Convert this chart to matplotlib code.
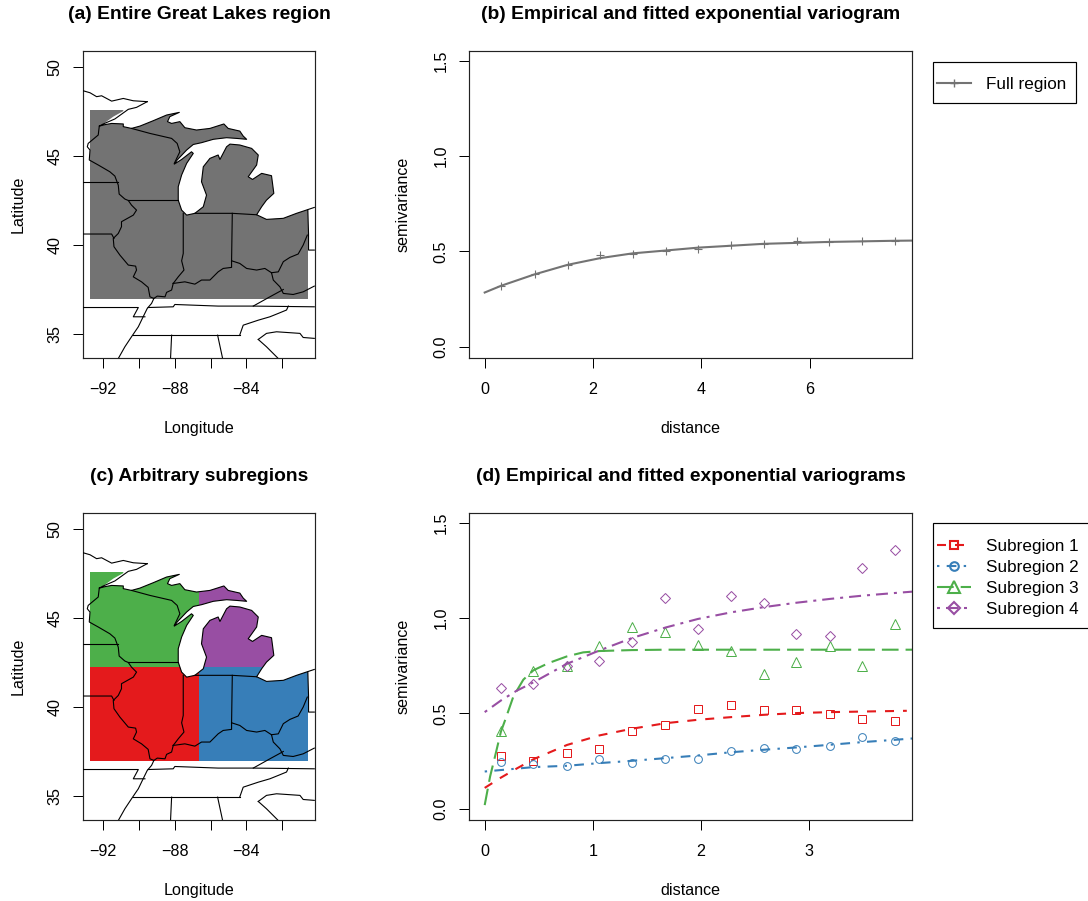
import matplotlib
matplotlib.use("Agg")
import matplotlib.pyplot as plt
from matplotlib.lines import Line2D
from matplotlib.patches import Polygon, Rectangle

plt.rcParams["font.family"] = ["Liberation Sans", "DejaVu Sans"]
plt.rcParams["lines.scale_dashes"] = False
plt.rcParams["lines.dash_capstyle"] = "butt"

# ---- map geometry (lon, lat) ----
REGION_LON = (-92.74, -80.57)
REGION_LAT = (36.99, 47.57)
SPLIT_LON = -86.66
SPLIT_LAT = 42.26

SHORELINE = [(-89.54, 48.04), (-90.14, 47.72), (-90.60, 47.61), (-91.35, 47.07), (-92.00, 46.79),
             (-92.22, 46.67), (-91.91, 46.75), (-91.53, 46.82), (-90.88, 46.79), (-90.88, 46.64),
             (-90.42, 46.54), (-89.95, 46.67), (-89.21, 46.97), (-88.46, 47.29), (-87.75, 47.44),
             (-88.28, 47.20), (-88.41, 46.92), (-88.18, 46.82), (-87.72, 46.92), (-87.44, 46.58),
             (-86.79, 46.45), (-86.04, 46.54), (-85.26, 46.79), (-85.02, 46.54), (-84.37, 46.39),
             (-84.18, 46.11), (-83.99, 45.93), (-84.55, 45.98), (-85.11, 46.02), (-85.85, 45.93),
             (-86.51, 45.74), (-86.97, 45.64), (-87.34, 45.33), (-87.87, 44.77), (-88.03, 44.54),
             (-87.62, 44.80), (-87.07, 45.23), (-86.97, 45.14), (-87.34, 44.58), (-87.62, 43.93),
             (-87.81, 43.27), (-87.81, 42.52), (-87.62, 41.96), (-87.34, 41.68), (-86.88, 41.78),
             (-86.41, 42.15), (-86.23, 42.80), (-86.51, 43.55), (-86.41, 44.39), (-86.04, 44.86),
             (-85.58, 45.05), (-85.48, 44.80), (-85.11, 45.51), (-84.92, 45.66), (-84.37, 45.61),
             (-83.71, 45.42), (-83.34, 45.05), (-83.43, 44.49), (-83.90, 43.83), (-83.66, 43.68),
             (-83.15, 44.02), (-82.60, 43.89), (-82.47, 42.90), (-82.88, 42.52), (-83.15, 42.15),
             (-83.43, 41.70), (-82.88, 41.44), (-81.94, 41.50), (-81.20, 41.78), (-80.21, 42.11)]
LAKE_EXTRA_START = [(-90.88, 50.0), (-90.88, 47.51), (-91.44, 47.20)]
LAKE_EXTRA_END = [(-80.0, 42.15), (-80.0, 50.0)]

BORDERS = [
    [(-93.12, 48.65), (-92.74, 48.54), (-92.37, 48.32), (-92.09, 48.37), (-91.53, 48.07),
     (-90.88, 48.22), (-90.32, 48.09), (-89.54, 48.04)],
    [(-92.22, 46.67), (-92.28, 46.17), (-92.84, 45.70), (-92.89, 45.51), (-92.74, 45.33),
     (-92.78, 44.77), (-92.28, 44.49), (-91.63, 44.11), (-91.35, 43.87), (-91.16, 43.36),
     (-91.11, 42.86), (-90.79, 42.58), (-90.60, 42.50), (-90.42, 42.24), (-90.14, 41.96),
     (-90.32, 41.68), (-90.98, 41.31), (-90.98, 41.03), (-91.16, 40.65), (-91.44, 40.37),
     (-91.40, 39.91), (-91.07, 39.44), (-90.60, 38.88), (-90.19, 38.82), (-90.14, 38.60),
     (-90.32, 38.22), (-89.86, 37.94), (-89.49, 37.63), (-89.39, 37.10), (-89.17, 37.01),
     (-89.30, 36.73), (-89.54, 36.45), (-89.77, 35.98), (-90.04, 35.42), (-90.42, 34.86),
     (-90.79, 34.30), (-91.16, 33.64)],
    [(-90.60, 42.50), (-87.81, 42.50)],
    [(-93.12, 43.51), (-91.16, 43.51)],
    [(-93.12, 40.62), (-91.53, 40.62), (-91.40, 40.37)],
    [(-90.42, 46.54), (-89.39, 46.26), (-88.18, 45.98), (-87.87, 45.70), (-87.72, 45.23), (-88.03, 44.58)],
    [(-87.53, 41.78), (-87.53, 39.53), (-87.62, 39.12), (-87.49, 38.60), (-87.81, 38.22), (-88.09, 37.85)],
    [(-86.88, 41.78), (-84.79, 41.78), (-83.43, 41.70)],
    [(-84.79, 41.78), (-84.83, 39.12)],
    [(-88.09, 37.85), (-87.44, 37.94), (-86.88, 37.81), (-86.51, 38.04), (-86.04, 38.04),
     (-85.58, 38.50), (-85.30, 38.69), (-84.83, 38.75), (-84.83, 39.12)],
    [(-84.83, 39.12), (-84.37, 38.97), (-83.99, 38.69), (-83.43, 38.60), (-82.97, 38.69), (-82.60, 38.45)],
    [(-82.60, 38.45), (-82.22, 38.50), (-81.94, 39.07), (-81.57, 39.31), (-81.11, 39.50),
     (-80.83, 40.00), (-80.60, 40.56)],
    [(-80.57, 41.96), (-80.53, 40.62), (-80.53, 39.72), (-80.21, 39.72)],
    [(-82.60, 38.45), (-82.50, 38.04), (-82.13, 37.66), (-81.94, 37.29), (-81.39, 37.23),
     (-80.83, 37.38), (-80.21, 37.70)],
    [(-81.94, 37.51), (-82.69, 37.10), (-83.62, 36.58)],
    [(-88.09, 37.85), (-88.18, 37.48), (-88.46, 37.35), (-88.55, 37.10), (-88.98, 37.14), (-89.17, 37.01)],
    [(-93.12, 36.50), (-90.04, 36.50), (-90.32, 35.98), (-89.67, 35.98)],
    [(-89.49, 36.50), (-88.09, 36.54), (-88.00, 36.67), (-85.58, 36.58), (-83.62, 36.58), (-80.21, 36.54)],
    [(-90.32, 34.97), (-84.37, 34.97)],
    [(-84.37, 34.97), (-84.18, 35.51), (-83.34, 35.79), (-82.69, 35.98), (-82.22, 36.17),
     (-81.76, 36.36), (-81.66, 36.58)],
    [(-83.34, 34.71), (-82.88, 35.05), (-82.32, 35.14), (-81.01, 35.05), (-80.83, 34.82), (-80.21, 34.77)],
    [(-83.34, 34.71), (-82.88, 34.30), (-82.22, 33.64)],
    [(-88.18, 34.95), (-88.24, 33.64)],
    [(-85.61, 34.95), (-85.33, 33.64)],
]

# ---- variogram data ----
full_dist = [0.30, 0.92, 1.53, 2.13, 2.73, 3.34, 3.94, 4.55, 5.15, 5.76, 6.36, 6.97, 7.57]
full_emp = [0.32, 0.38, 0.43, 0.48, 0.485, 0.505, 0.515, 0.535, 0.54, 0.555, 0.55, 0.555, 0.555]
full_fit_d = [0, 0.30, 0.92, 1.53, 2.13, 2.73, 3.34, 3.94, 4.55, 5.15, 5.76, 6.36, 6.97, 7.57, 7.9]
full_fit_v = [0.285, 0.32, 0.38, 0.43, 0.465, 0.49, 0.505, 0.52, 0.53, 0.54, 0.545, 0.55, 0.553, 0.556, 0.557]

sub_dist = [0.15, 0.45, 0.76, 1.06, 1.36, 1.67, 1.97, 2.28, 2.58, 2.88, 3.19, 3.49, 3.79]
sub1_emp = [.276, .252, .295, .316, .409, .439, .524, .542, .516, .519, .498, .472, .460]
sub2_emp = [.245, .234, .224, .259, .243, .260, .264, .301, .318, .313, .330, .376, .355]
sub3_emp = [.409, .724, .747, .851, .953, .928, .857, .829, .706, .771, .851, .747, .970]
sub4_emp = [.635, .656, .747, .774, .874, 1.107, .942, 1.117, 1.079, .916, .907, 1.260, 1.358]

sub1_fit_d = [0, .15, .30, .45, .76, 1.06, 1.36, 1.67, 1.97, 2.28, 2.58, 2.88, 3.19, 3.49, 3.9]
sub1_fit_v = [.11, .164, .213, .26, .335, .385, .42, .449, .467, .481, .493, .502, .507, .51, .514]
sub2_fit_d = [0, .45, .76, 1.06, 1.36, 1.67, 1.97, 2.28, 2.58, 2.88, 3.19, 3.49, 3.79, 3.95]
sub2_fit_v = [.196, .219, .226, .24, .252, .266, .28, .297, .31, .322, .336, .35, .362, .369]
sub3_fit_d = [0, .05, .095, .15, .19, .265, .357, .45, .59, .76, .91, 1.06, 1.36, 1.67, 3.95]
sub3_fit_v = [.02, .17, .274, .405, .467, .589, .677, .726, .764, .799, .82, .827, .832, .834, .834]
sub4_fit_d = [0, .15, .295, .45, .76, 1.06, 1.36, 1.67, 1.97, 2.28, 2.58, 2.88, 3.19, 3.49, 3.79, 3.95]
sub4_fit_v = [.507, .568, .619, .663, .76, .83, .895, .95, .995, 1.03, 1.057, 1.08, 1.10, 1.117, 1.131, 1.138]

RED, BLUE, GREEN, PURPLE, GRAY = "#E41A1C", "#377EB8", "#4DAF4A", "#984EA3", "#737373"
PX = 0.72  # points per pixel at dpi 100
W, H = 1088, 901


def dash(*px):
    return (0, tuple(p * PX for p in px))


def add_axes(left, top, right, bottom):
    return fig.add_axes([left / W, 1 - bottom / H, (right - left) / W, (bottom - top) / H])


def style(ax, xticks, yticks, ylabels, title, xlabel, ylabel):
    ax.set_xticks(xticks)
    ax.set_yticks(yticks)
    ax.set_yticklabels(ylabels, rotation=90, va="center")
    ax.tick_params(length=7.2, width=0.72, labelsize=11.6, pad=10)
    ax.tick_params(axis="y", pad=7.5)
    for s in ax.spines.values():
        s.set_linewidth(0.85)
        s.set_color("#222222")
    ax.set_title(title, fontsize=13.9, fontweight="bold", pad=23)
    ax.set_xlabel(xlabel, fontsize=11.6)
    ax.set_ylabel(ylabel, fontsize=11.6)
    ax.xaxis.set_label_coords(0.5, -70.5 / 307, transform=ax.transAxes)
    ax.xaxis.label.set_va("center")
    ax.yaxis.label.set_va("center")


def draw_map(ax, boxes, title):
    for (x0, x1, y0, y1, c) in boxes:
        ax.add_patch(Rectangle((x0, y0), x1 - x0, y1 - y0, facecolor=c, edgecolor="none", zorder=1))
    lake = LAKE_EXTRA_START + SHORELINE[4:] + LAKE_EXTRA_END
    ax.add_patch(Polygon(lake, closed=True, facecolor="white", edgecolor="none", zorder=2))
    for line in [SHORELINE] + BORDERS:
        ax.plot([p[0] for p in line], [p[1] for p in line], color="black", lw=0.8, zorder=3,
                solid_joinstyle="round")
    ax.set_xlim(-93.13, -80.17)
    ax.set_ylim(33.67, 50.88)
    style(ax, [-92, -90, -88, -86, -84, -82], [35, 40, 45, 50], ["35", "40", "45", "50"],
          title, "Longitude", "Latitude")
    ax.set_xticklabels(["\u221292", "", "\u221288", "", "\u221284", ""])
    ax.yaxis.set_label_coords(-65 / 232, 0.5, transform=ax.transAxes)


def add_legend(ax, handles, labels, left, top, right, bottom, anchor_y):
    fig.add_artist(Rectangle((left / W, 1 - bottom / H), (right - left) / W, (bottom - top) / H,
                             transform=fig.transFigure, facecolor="white", edgecolor="black", lw=0.85))
    leg = fig.legend(handles, labels, loc="upper left", bbox_to_anchor=((left + 4) / W, 1 - anchor_y / H),
                     frameon=False, borderpad=0, borderaxespad=0, fontsize=12.3, handlelength=34 / 17.08,
                     handletextpad=15 / 17.08, labelspacing=0.355, numpoints=1)
    return leg


fig = plt.figure(figsize=(W / 100, H / 100), dpi=100)

# (a)
ax_a = add_axes(83, 51, 315, 358)
draw_map(ax_a, [(REGION_LON[0], REGION_LON[1], REGION_LAT[0], REGION_LAT[1], GRAY)],
         "(a) Entire Great Lakes region")

# (b)
ax_b = add_axes(469, 51, 912, 358)
ax_b.plot(full_fit_d, full_fit_v, color=GRAY, lw=1.5)
ax_b.plot(full_dist, full_emp, ls="none", marker="+", ms=6, mew=0.8, color=GRAY)
ax_b.set_xlim(-0.29, 7.89)
ax_b.set_ylim(-0.058, 1.55)
style(ax_b, [0, 2, 4, 6], [0, 0.5, 1, 1.5], ["0.0", "0.5", "1.0", "1.5"],
      "(b) Empirical and fitted exponential variogram", "distance", "semivariance")
ax_b.yaxis.set_label_coords(-66 / 443, 0.5, transform=ax_b.transAxes)
add_legend(ax_b, [Line2D([], [], color=GRAY, lw=1.5, marker="+", ms=6, mew=1.0)], ["Full region"],
           933, 62, 1076, 103, 77)

# (c)
ax_c = add_axes(83, 513, 315, 820)
draw_map(ax_c, [
    (REGION_LON[0], SPLIT_LON, REGION_LAT[0], SPLIT_LAT, RED),
    (SPLIT_LON, REGION_LON[1], REGION_LAT[0], SPLIT_LAT, BLUE),
    (REGION_LON[0], SPLIT_LON, SPLIT_LAT, REGION_LAT[1], GREEN),
    (SPLIT_LON, REGION_LON[1], SPLIT_LAT, REGION_LAT[1], PURPLE),
], "(c) Arbitrary subregions")

# (d)
ax_d = add_axes(469, 513, 912, 820)
series = [
    (sub1_fit_d, sub1_fit_v, sub1_emp, RED, dash(9, 9), "s", 5.3, "Subregion 1"),
    (sub2_fit_d, sub2_fit_v, sub2_emp, BLUE, dash(2.4, 7.3, 9.7, 7.3), "o", 5.6, "Subregion 2"),
    (sub3_fit_d, sub3_fit_v, sub3_emp, GREEN, dash(16.7, 7), "^", 7.4, "Subregion 3"),
    (sub4_fit_d, sub4_fit_v, sub4_emp, PURPLE, dash(3, 6, 12, 6), "D", 5.2, "Subregion 4"),
]
handles, labels = [], []
for fd, fv, emp, col, ls, mk, ms, lab in series:
    ax_d.plot(fd, fv, color=col, lw=1.5, ls=ls)
    ax_d.plot(sub_dist, emp, ls="none", marker=mk, ms=ms, mfc="none", mec=col, mew=0.72)
    handles.append(Line2D([], [], color=col, lw=1.5, ls=ls, marker=mk, ms=ms + 0.6, mfc="none", mec=col, mew=1.5))
    labels.append(lab)
ax_d.set_xlim(-0.145, 3.948)
ax_d.set_ylim(-0.058, 1.55)
style(ax_d, [0, 1, 2, 3], [0, 0.5, 1, 1.5], ["0.0", "0.5", "1.0", "1.5"],
      "(d) Empirical and fitted exponential variograms", "distance", "semivariance")
ax_d.yaxis.set_label_coords(-66 / 443, 0.5, transform=ax_d.transAxes)
add_legend(ax_d, handles, labels, 933, 523, 1090, 628, 539)

fig.savefig("out.png", dpi=100)
